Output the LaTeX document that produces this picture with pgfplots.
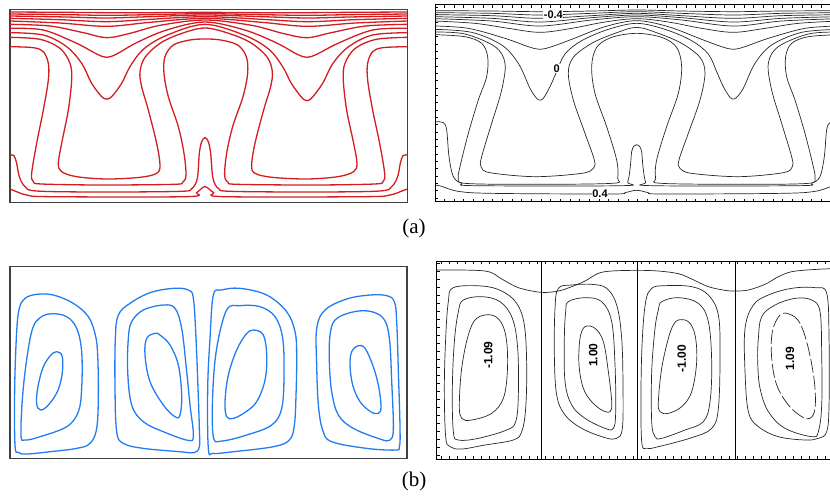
\documentclass[border=0pt]{standalone}
\usepackage{fontspec}
\setmainfont{Liberation Serif}
\newfontfamily\labfont{Liberation Sans}
\usepackage{pgfplots}
\pgfplotsset{compat=1.18}
\definecolor{cred}{RGB}{210,30,35}
\definecolor{cblue}{RGB}{35,125,240}
\pgfplotsset{
 panel/.style={scale only axis, y dir=reverse, xticklabels={}, yticklabels={}},
 lframe/.style={panel, ticks=none, axis line style={line width=1.6pt, black!75}},
 rframe/.style={panel, axis line style={line width=0.7pt, black}, tick align=inside,
   major tick length=3pt, tick style={line width=0.5pt, black}},
 rc/.style={cred, line width=1.3pt, smooth, tension=0.55},
 bc/.style={cblue, line width=1.3pt, smooth cycle, tension=0.6},
 kc/.style={black!85, line width=0.7pt, smooth, tension=0.55},
 kl/.style={black!85, line width=0.7pt, smooth cycle, tension=0.6},
}
\begin{document}
\begin{tikzpicture}
% ---------------- (a) left: red ----------------
\begin{axis}[lframe, anchor=north west, at={(10pt,-9.33pt)}, width=397.3pt, height=193pt,
  xmin=30, xmax=1222, ymin=28, ymax=607]
\addplot[rc] coordinates {(30,36) (200,37) (320,38) (450,38) (615,37) (786,38) (921,38) (1046,37) (1222,36)};
\addplot[rc] coordinates {(30,42) (200,44) (320,46) (450,44) (615,41) (786,44) (921,46) (1046,44) (1222,42)};
\addplot[rc] coordinates {(30,48) (200,51) (320,54) (450,50) (615,45) (786,50) (921,54) (1046,51) (1222,48)};
\addplot[rc] coordinates {(30,55) (180,59) (320,65) (450,58) (615,50) (786,58) (921,65) (1066,59) (1222,55)};
\addplot[rc] coordinates {(30,63) (180,69) (320,79) (450,67) (615,55) (786,67) (921,79) (1066,69) (1222,63)};
\addplot[rc] coordinates {(30,73) (150,78) (250,98) (320,113) (390,100) (480,76) (615,60) (755,76) (848,100) (921,113) (994,98) (1097,78) (1222,73)};
\addplot[rc] coordinates {(30,85) (130,90) (230,130) (290,162) (320,172) (350,162) (410,128) (500,90) (615,66) (734,90) (828,128) (890,162) (921,172) (952,162) (1014,130) (1118,90) (1222,85)};
\addplot[rc] coordinates {(30,98) (130,105) (200,140) (245,190) (275,250) (305,290) (320,297) (335,290) (365,250) (390,200) (430,148) (500,106) (615,73) (734,106) (807,148) (848,200) (874,250) (905,292) (921,302) (937,292) (968,250) (999,190) (1046,140) (1118,105) (1222,98)};
\addplot[rc] coordinates {(30,112) (120,118) (180,145) (210,190) (215,240) (205,330) (185,430) (175,490) (185,515) (230,530) (320,537) (420,532) (470,520) (480,495) (470,430) (445,330) (425,260) (420,215) (435,172) (480,130) (540,102) (615,84) (692,102) (755,130) (802,172) (817,215) (812,260) (791,330) (765,430) (755,495) (765,520) (817,532) (921,537) (1014,530) (1061,515) (1071,490) (1061,430) (1040,330) (1030,240) (1035,190) (1066,145) (1129,118) (1222,112)};
\addplot[rc] coordinates {(30,140) (100,143) (130,155) (145,190) (145,240) (130,330) (110,430) (95,520) (100,545) (125,552) (300,555) (520,553) (548,547) (558,525) (552,460) (535,380) (505,290) (492,220) (495,170) (520,135) (570,120) (615,117) (662,120) (713,135) (739,170) (743,220) (729,290) (698,380) (680,460) (674,525) (684,547) (713,553) (942,555) (1123,552) (1149,545) (1154,520) (1139,430) (1118,330) (1103,240) (1103,190) (1118,155) (1149,143) (1222,140)};
\addplot[rc] coordinates {(30,465) (42,467) (50,490) (58,530) (75,560) (110,573) (300,576) (540,574) (575,566) (592,535) (598,460) (605,425) (615,413) (625,425) (632,460) (639,535) (656,566) (693,574) (942,576) (1139,573) (1175,560) (1193,530) (1201,490) (1209,467) (1222,465)};
\addplot[rc] coordinates {(30,567) (45,573) (80,585) (150,590) (560,590) (590,578) (605,565) (615,560) (625,565) (641,578) (672,590) (1097,590) (1170,585) (1206,573) (1222,567)};
\end{axis}
% ---------------- (a) right: black ----------------
\begin{axis}[rframe, anchor=north west, at={(435pt,-4.67pt)}, width=403.3pt, height=197pt,
  xmin=30, xmax=1240, ymin=14, ymax=605, xtick distance=29, ytick distance=22]
\addplot[kc] coordinates {(30,32) (200,33) (345,35) (500,33) (635,30) (770,33) (925,35) (1070,33) (1240,32)};
\addplot[kc] coordinates {(30,38) (200,40) (345,45) (500,40) (635,35) (770,40) (925,45) (1070,40) (1240,38)};
\addplot[kc] coordinates {(30,44) (200,47) (345,55) (500,47) (635,40) (770,47) (925,55) (1070,47) (1240,44)};
\addplot[kc] coordinates {(30,50) (200,55) (345,66) (500,53) (635,45) (770,53) (925,66) (1070,55) (1240,50)};
\addplot[kc] coordinates {(30,56) (200,63) (345,78) (500,60) (635,50) (770,60) (925,78) (1070,63) (1240,56)};
\addplot[kc] coordinates {(30,63) (150,70) (250,85) (345,97) (440,85) (540,66) (635,56) (730,66) (830,85) (925,97) (1020,85) (1120,70) (1240,63)};
\addplot[kc] coordinates {(30,78) (130,85) (240,115) (310,140) (345,148) (380,140) (440,118) (540,80) (635,62) (730,80) (830,118) (890,140) (925,148) (960,140) (1030,115) (1140,85) (1240,78)};
\addplot[kc] coordinates {(30,88) (140,97) (230,135) (280,190) (315,265) (335,295) (345,300) (355,295) (375,260) (395,215) (420,162) (470,122) (550,88) (635,70) (720,88) (800,122) (850,162) (875,215) (895,260) (915,292) (925,297) (935,292) (955,265) (990,190) (1040,135) (1130,97) (1240,88)};
\addplot[kc] coordinates {(30,96) (120,102) (210,140) (240,190) (230,270) (200,370) (170,470) (168,500) (195,518) (330,530) (470,520) (505,505) (508,480) (480,400) (445,300) (430,220) (445,172) (500,130) (570,100) (635,82) (700,100) (770,130) (825,172) (840,220) (825,300) (790,400) (762,480) (765,505) (800,520) (940,530) (1075,518) (1102,500) (1100,470) (1070,370) (1040,270) (1030,190) (1060,140) (1150,102) (1240,96)};
\addplot[kc] coordinates {(30,104) (120,110) (170,130) (188,170) (185,230) (160,300) (130,400) (105,500) (100,535) (120,550) (300,553) (560,550) (578,535) (575,480) (545,380) (510,280) (500,200) (515,142) (560,112) (635,100) (710,112) (755,142) (770,200) (760,280) (725,380) (695,480) (692,535) (710,550) (970,553) (1150,550) (1170,535) (1165,500) (1140,400) (1110,300) (1085,230) (1082,170) (1100,130) (1150,110) (1240,104)};
\addplot[kc] coordinates {(30,365) (55,368) (65,390) (72,470) (85,530) (110,550) (150,557) (590,557) (608,546) (616,500) (620,455) (627,438) (635,434) (643,438) (650,455) (654,500) (662,546) (680,557) (1120,557) (1160,550) (1185,530) (1198,470) (1205,390) (1215,368) (1240,365)};
\addplot[kc] coordinates {(30,555) (50,559) (100,574) (200,580) (560,582) (600,578) (620,573) (635,571) (650,573) (670,578) (710,582) (1070,580) (1170,574) (1220,559) (1240,555)};
\node[fill=white, inner sep=0.6pt, font=\labfont\bfseries\fontsize{11}{12}\selectfont] at (axis cs:385,44) {-0.4};
\node[fill=white, inner sep=0.6pt, font=\labfont\bfseries\fontsize{11}{12}\selectfont] at (axis cs:395,205) {0};
\node[fill=white, inner sep=0.6pt, font=\labfont\bfseries\fontsize{11}{12}\selectfont] at (axis cs:525,582) {0.4};
\end{axis}
% ---------------- (b) left: blue ----------------
\begin{axis}[lframe, anchor=north west, at={(10pt,-266.67pt)}, width=396.7pt, height=191.7pt,
  xmin=30, xmax=1220, ymin=35, ymax=610]
\addplot[bc] coordinates {(75,130) (110,118) (160,120) (220,145) (265,185) (286,240) (293,300) (295,420) (290,520) (270,565) (230,580) (150,590) (80,597) (55,592) (45,570) (44,400) (50,230) (58,160)};
\addplot[bc] coordinates {(120,188) (155,176) (200,185) (230,220) (245,290) (245,400) (235,470) (200,515) (120,545) (75,555) (63,540) (68,420) (82,300) (98,220)};
\addplot[bc] coordinates {(170,290) (187,305) (186,360) (172,410) (145,450) (122,465) (110,447) (113,400) (128,340) (150,303)};
\addplot[bc] coordinates {(355,180) (390,145) (450,113) (520,100) (565,105) (580,130) (588,250) (594,400) (598,520) (598,575) (582,593) (540,590) (430,580) (370,565) (350,530) (345,400) (346,250)};
\addplot[bc] coordinates {(395,200) (430,165) (490,150) (525,160) (545,220) (558,330) (570,450) (580,540) (565,556) (490,530) (430,500) (395,450) (383,350) (385,250)};
\addplot[bc] coordinates {(465,235) (480,240) (510,270) (535,330) (545,420) (540,480) (525,485) (490,450) (450,380) (435,300) (440,250)};
\addplot[bc] coordinates {(640,120) (665,105) (720,100) (800,120) (860,170) (885,230) (890,300) (888,420) (883,510) (868,555) (820,575) (700,590) (640,595) (625,580) (623,400) (630,250)};
\addplot[bc] coordinates {(680,165) (720,152) (780,155) (825,185) (848,250) (852,360) (845,460) (815,510) (740,540) (665,558) (640,545) (638,420) (650,280)};
\addplot[bc] coordinates {(760,225) (790,240) (800,300) (795,375) (770,440) (735,472) (700,490) (680,485) (675,440) (685,360) (710,285) (738,238)};
\addplot[bc] coordinates {(950,220) (975,165) (1040,132) (1110,120) (1160,122) (1183,140) (1190,200) (1195,350) (1200,520) (1198,575) (1185,585) (1100,580) (995,560) (968,525) (955,450) (950,330)};
\addplot[bc] coordinates {(990,240) (1005,195) (1050,173) (1105,168) (1150,190) (1168,250) (1175,380) (1180,520) (1170,555) (1140,552) (1060,520) (1015,480) (995,410) (988,320)};
\addplot[bc] coordinates {(1075,272) (1095,280) (1118,330) (1135,390) (1143,455) (1135,475) (1112,470) (1080,440) (1058,390) (1050,330) (1055,290)};
\end{axis}
% ---------------- (b) right: black ----------------
\begin{axis}[rframe, anchor=north west, at={(436.67pt,-261pt)}, width=401.7pt, height=198pt,
  xmin=35, xmax=1240, ymin=18, ymax=612, xtick distance=24, ytick distance=24]
\addplot[black, line width=0.7pt] coordinates {(348,18) (348,612)};
\addplot[black, line width=0.7pt] coordinates {(637,18) (637,612)};
\addplot[black, line width=0.7pt] coordinates {(930,18) (930,612)};
\addplot[kc] coordinates {(35,45) (180,48) (230,72) (280,98) (348,112) (400,108) (440,95) (480,78) (520,55) (560,48) (637,46) (700,48) (760,56) (800,72) (850,95) (900,106) (930,108) (970,105) (1020,88) (1060,65) (1100,50) (1160,44) (1240,40)};
\addplot[kl] coordinates {(85,98) (170,93) (230,108) (275,145) (298,210) (305,330) (302,460) (290,530) (265,555) (180,570) (110,582) (75,575) (62,545) (58,400) (62,250) (70,140)};
\addplot[kl] coordinates {(115,135) (170,125) (225,140) (262,190) (278,280) (280,420) (272,500) (245,525) (160,550) (100,555) (85,530) (82,400) (88,260) (100,170)};
\addplot[kl] coordinates {(155,190) (200,180) (230,205) (245,260) (247,350) (235,430) (200,475) (140,495) (110,490) (103,450) (110,340) (130,240)};
\addplot[kl] coordinates {(400,100) (440,90) (500,88) (545,100) (575,150) (590,250) (594,400) (592,520) (575,550) (540,548) (470,520) (420,480) (395,420) (388,300) (390,160)};
\addplot[kl] coordinates {(430,140) (480,128) (530,140) (560,200) (570,330) (572,470) (565,520) (540,520) (480,490) (440,450) (420,380) (418,250) (422,170)};
\addplot[kl] coordinates {(480,215) (510,220) (535,260) (550,350) (560,440) (555,470) (530,465) (500,440) (475,400) (462,330) (465,250)};
\addplot[kl] coordinates {(680,100) (720,92) (800,95) (850,120) (880,180) (885,300) (880,460) (860,520) (800,548) (700,575) (665,580) (650,560) (648,400) (652,250) (662,140)};
\addplot[kl] coordinates {(710,140) (760,128) (820,145) (850,200) (860,320) (855,440) (835,500) (780,525) (710,550) (690,545) (680,500) (680,350) (690,220) (700,165)};
\addplot[kl] coordinates {(760,195) (790,200) (810,240) (815,320) (800,410) (770,455) (730,475) (705,470) (700,440) (710,340) (730,250) (745,210)};
\addplot[kl] coordinates {(960,220) (985,150) (1030,120) (1100,100) (1170,98) (1205,115) (1212,250) (1212,450) (1205,530) (1180,550) (1140,555) (1060,545) (1000,515) (970,470) (960,350)};
\addplot[kl] coordinates {(1000,250) (1010,185) (1050,150) (1110,130) (1160,135) (1185,170) (1190,300) (1190,450) (1180,530) (1160,545) (1080,520) (1030,470) (1005,400) (998,320)};
\addplot[kl, dash pattern=on 14pt off 3pt] coordinates {(1065,180) (1095,178) (1125,205) (1150,280) (1168,380) (1170,460) (1155,490) (1130,485) (1090,450) (1055,390) (1040,310) (1042,230)};
\node[fill=white, inner sep=0.4pt, rotate=90, font=\labfont\bfseries\fontsize{12}{13}\selectfont] at (axis cs:190,300) {-1.09};
\node[fill=white, inner sep=0.4pt, rotate=90, font=\labfont\bfseries\fontsize{12}{13}\selectfont] at (axis cs:505,300) {1.00};
\node[fill=white, inner sep=0.4pt, rotate=90, font=\labfont\bfseries\fontsize{12}{13}\selectfont] at (axis cs:770,310) {-1.00};
\node[fill=white, inner sep=0.4pt, rotate=90, font=\labfont\bfseries\fontsize{12}{13}\selectfont] at (axis cs:1095,310) {1.09};
\end{axis}
\node[font=\fontsize{21}{24}\selectfont] at (414pt,-228pt) {(a)};
\node[font=\fontsize{21}{24}\selectfont] at (414pt,-481pt) {(b)};
\pgfresetboundingbox
\path[use as bounding box] (0pt,0pt) rectangle (830pt,-496pt);
\end{tikzpicture}
\end{document}
